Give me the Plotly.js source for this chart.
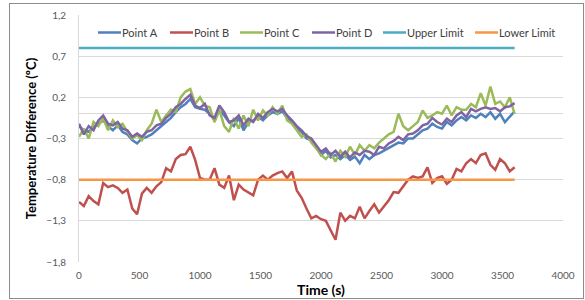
<!DOCTYPE html>
<html>
<head>
<meta charset="utf-8">
<script src="https://cdn.plot.ly/plotly-3.0.1.min.js"></script>
<style>
html,body{margin:0;padding:0;background:#fff;}
#wrap{position:relative;width:585px;height:300px;}
#chart{position:absolute;left:0;top:0;width:585px;height:300px;}
#frame{position:absolute;left:9px;top:3px;width:573px;height:294px;border:1px solid #8c8c8c;pointer-events:none;}
</style>
</head>
<body>
<div id="wrap"><div id="chart"></div><div id="frame"></div></div>
<script>
const time = [0,40,80,120,160,200,240,280,320,360,400,440,480,520,560,600,640,680,720,760,800,840,880,920,960,1000,1040,1080,1120,1160,1200,1240,1280,1320,1360,1400,1440,1480,1520,1560,1600,1640,1680,1720,1760,1800,1840,1880,1920,1960,2000,2040,2080,2120,2160,2200,2240,2280,2320,2360,2400,2440,2480,2520,2560,2600,2640,2680,2720,2760,2800,2840,2880,2920,2960,3000,3040,3080,3120,3160,3200,3240,3280,3320,3360,3400,3440,3480,3520,3560,3600];

const pointA = [-0.15,-0.2,-0.22,-0.16,-0.12,-0.08,-0.15,-0.2,-0.14,-0.22,
  -0.25,-0.32,-0.36,-0.3,-0.28,-0.25,-0.2,-0.15,-0.1,-0.05,
  0.02,0.08,0.12,0.18,0.08,0.06,0.05,0.0,-0.08,0.04,
  -0.02,-0.1,-0.15,-0.05,-0.2,-0.1,-0.08,-0.03,-0.08,-0.02,
  0.02,0.0,0.03,-0.05,-0.1,-0.18,-0.22,-0.3,-0.32,-0.4,
  -0.5,-0.45,-0.53,-0.5,-0.55,-0.5,-0.56,-0.52,-0.6,-0.5,
  -0.55,-0.5,-0.48,-0.45,-0.42,-0.38,-0.35,-0.36,-0.3,-0.3,
  -0.25,-0.2,-0.18,-0.12,-0.16,-0.18,-0.1,-0.14,-0.08,-0.04,
  -0.08,-0.02,-0.05,0.0,-0.04,0.02,-0.06,0.0,-0.1,-0.04,
  0.03];

const pointB = [-1.07,-1.12,-1.0,-1.06,-1.1,-0.84,-0.89,-0.87,-0.9,-0.96,
  -0.92,-1.15,-1.22,-0.97,-0.9,-0.96,-0.88,-0.83,-0.66,-0.7,
  -0.55,-0.5,-0.49,-0.4,-0.56,-0.78,-0.8,-0.8,-0.66,-0.86,
  -0.9,-0.75,-1.05,-0.86,-0.92,-0.95,-0.99,-0.8,-0.75,-0.8,
  -0.75,-0.72,-0.7,-0.78,-0.7,-0.93,-1.02,-1.15,-1.27,-1.24,
  -1.28,-1.3,-1.42,-1.53,-1.2,-1.3,-1.24,-1.27,-1.13,-1.27,
  -1.18,-1.1,-1.2,-1.12,-1.05,-0.95,-0.96,-0.88,-0.8,-0.76,
  -0.78,-0.76,-0.65,-0.84,-0.78,-0.76,-0.85,-0.8,-0.67,-0.7,
  -0.6,-0.55,-0.6,-0.5,-0.48,-0.62,-0.68,-0.55,-0.6,-0.7,
  -0.65];

const pointC = [-0.28,-0.18,-0.3,-0.1,-0.15,-0.05,-0.2,-0.08,-0.16,-0.12,
  -0.22,-0.3,-0.26,-0.32,-0.2,-0.12,0.05,-0.1,-0.02,0.05,
  0.02,0.2,0.27,0.3,0.12,0.2,0.1,0.08,-0.1,0.05,
  -0.15,-0.22,-0.05,-0.18,-0.02,-0.15,0.05,-0.08,0.04,-0.02,
  0.08,0.0,0.1,-0.08,-0.12,-0.2,-0.28,-0.25,-0.35,-0.42,
  -0.5,-0.55,-0.48,-0.58,-0.45,-0.52,-0.4,-0.5,-0.38,-0.45,
  -0.38,-0.42,-0.35,-0.3,-0.25,-0.22,0.0,-0.15,-0.2,-0.15,
  -0.1,0.04,-0.05,-0.02,0.02,0.0,0.1,-0.02,0.08,0.05,
  0.05,0.12,0.08,0.25,0.1,0.33,0.12,0.15,0.08,0.2,
  0.0];

const pointD = [-0.12,-0.25,-0.15,-0.2,-0.08,-0.02,-0.12,-0.14,-0.1,-0.18,
  -0.2,-0.28,-0.24,-0.28,-0.22,-0.2,-0.14,-0.12,-0.05,0.0,
  0.08,0.12,0.18,0.23,0.1,0.07,0.12,-0.02,-0.05,0.1,
  0.02,-0.1,-0.08,-0.02,-0.14,-0.06,-0.1,0.0,-0.05,0.02,
  0.06,0.03,0.06,-0.02,-0.08,-0.15,-0.2,-0.27,-0.3,-0.38,
  -0.46,-0.42,-0.5,-0.45,-0.52,-0.46,-0.53,-0.47,-0.5,-0.45,
  -0.46,-0.5,-0.4,-0.42,-0.36,-0.33,-0.28,-0.32,-0.25,-0.24,
  -0.2,-0.14,-0.12,-0.05,-0.1,-0.13,-0.06,-0.1,-0.02,0.02,
  -0.04,0.06,0.03,0.06,0.08,0.06,0.07,0.03,0.08,0.09,
  0.13];

const limitTime = [0, 3600];
const upperLimit = [0.8, 0.8];
const lowerLimit = [-0.8, -0.8];

const seriesNames = ['Point A','Point B','Point C','Point D','Upper Limit','Lower Limit'];
const seriesColors = ['#4F81BD','#C0504D','#9BBB59','#8064A2','#4BACC6','#F79646'];

const yTickVals = [-1.8,-1.3,-0.8,-0.3,0.2,0.7,1.2];
const xTickVals = [0,500,1000,1500,2000,2500,3000,3500,4000];

const allY = [pointA, pointB, pointC, pointD, upperLimit, lowerLimit];
const allX = [time, time, time, time, limitTime, limitTime];
const traces = allY.map((y,i)=>({
  x: allX[i], y: y, type:'scatter', mode:'lines', name: seriesNames[i],
  showlegend:false,
  line:{color: seriesColors[i], width:2.5}
}));

// Legend (Excel-style, inside top of plot area) drawn with shapes + text
const M = {l:79, r:22, t:15, b:38};
const plotW = 585 - M.l - M.r, plotH = 300 - M.t - M.b;
const legendKeyStartPx = [98, 170, 240, 312, 383, 475];
const legendKeyLen = 23, legendRowPx = 32.5;
const px2x = p => (p - M.l) / plotW;
const py2y = p => 1 - (p - M.t) / plotH;
const font = 'Lato, "Open Sans", sans-serif';
const shapes = [], annotations = [];
seriesNames.forEach((n,i)=>{
  const s = legendKeyStartPx[i];
  shapes.push({type:'line', xref:'paper', yref:'paper', x0:px2x(s), x1:px2x(s+legendKeyLen),
    y0:py2y(legendRowPx), y1:py2y(legendRowPx), line:{color:seriesColors[i], width:2.5}});
  annotations.push({xref:'paper', yref:'paper', x:px2x(s+legendKeyLen), y:py2y(legendRowPx),
    xanchor:'left', yanchor:'middle', showarrow:false, text:n, borderpad:0,
    font:{family:font, size:11, color:'#404040'}});
});

const layout = {
  width:585, height:300,
  margin:M,
  paper_bgcolor:'#ffffff', plot_bgcolor:'#ffffff',
  separators: ',.',
  font:{family:font, size:10, color:'#595959'},
  showlegend:false,
  shapes: shapes, annotations: annotations,
  xaxis:{range:[0,4000], tickvals:xTickVals, ticks:'', showgrid:false, zeroline:false,
    showline:false, ticklabelstandoff:6, tickfont:{family:font,size:10,color:'#595959'},
    title:{text:'Time (s)', font:{family:font, size:14, color:'#000000', weight:'bold'}, standoff:4}},
  yaxis:{range:[-1.8,1.2], tickvals:yTickVals, tickformat:'.1f', ticks:'', showgrid:true,
    gridcolor:'#d9d9d9', gridwidth:1, zeroline:true, zerolinecolor:'#d9d9d9', zerolinewidth:1,
    showline:true, linecolor:'#d9d9d9', linewidth:1, ticklabelstandoff:10,
    tickfont:{family:font,size:10,color:'#595959'},
    title:{text:'Temperature Difference (ºC)', font:{family:font, size:13, color:'#000000', weight:'bold'}, standoff:6}}
};

Plotly.newPlot('chart', traces, layout, {displayModeBar:false, staticPlot:true});
</script>
</body>
</html>
